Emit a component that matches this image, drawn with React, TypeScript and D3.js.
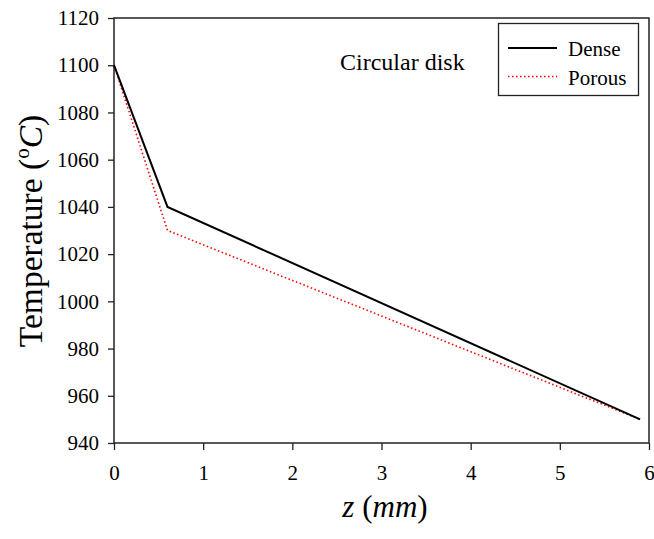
import React, { useEffect, useRef } from 'react'
import * as d3 from 'd3'

// distance along the disk (mm) and temperature (°C)
const zValues = [0, 0.6, 5.9]
const denseTemps = [1100, 1040, 950]
const porousTemps = [1100, 1030, 950]
const xTicks = [0, 1, 2, 3, 4, 5, 6]
const yTicks = [940, 960, 980, 1000, 1020, 1040, 1060, 1080, 1100, 1120]
const seriesNames = ['Dense', 'Porous']

const FONT = 'Liberation Serif, Times New Roman, DejaVu Serif, serif'

const App = () => {
  const ref = useRef<SVGSVGElement>(null)
  const width = 654
  const height = 539
  const left = 114
  const right = 649
  const top = 18
  const bottom = 443

  useEffect(() => {
    const svg = d3.select(ref.current)
    svg.selectAll('*').remove()

    const x = d3.scaleLinear().domain([0, 6]).range([left, right])
    const y = d3.scaleLinear().domain([940, 1120]).range([bottom, top])

    // frame
    svg.append('rect')
      .attr('x', left).attr('y', top)
      .attr('width', right - left).attr('height', bottom - top)
      .attr('fill', 'none').attr('stroke', '#222').attr('stroke-width', 1.5)

    const xAxis = svg.append('g')
      .attr('transform', `translate(0, ${bottom})`)
      .call(d3.axisBottom(x).tickValues(xTicks).tickFormat(d3.format('d'))
        .tickSize(7).tickSizeOuter(0).tickPadding(15))
    xAxis.attr('font-family', FONT).attr('font-size', 21)
    xAxis.select('.domain').remove()
    xAxis.selectAll('line').attr('stroke', '#222').attr('stroke-width', 1.3)
    xAxis.selectAll('text').attr('fill', '#000')

    const yAxis = svg.append('g')
      .attr('transform', `translate(${left}, 0)`)
      .call(d3.axisLeft(y).tickValues(yTicks).tickFormat(d3.format('d'))
        .tickSize(6).tickSizeOuter(0).tickPadding(9))
    yAxis.attr('font-family', FONT).attr('font-size', 21)
    yAxis.select('.domain').remove()
    yAxis.selectAll('line').attr('stroke', '#222').attr('stroke-width', 1.3)
    yAxis.selectAll('text').attr('fill', '#000')

    const line = d3.line<number>()
      .x((_, i) => x(zValues[i]))
      .y(d => y(d))

    svg.append('path')
      .attr('d', line(porousTemps))
      .attr('fill', 'none').attr('stroke', '#ff0000')
      .attr('stroke-width', 1.6).attr('stroke-dasharray', '1.5 2.5')

    svg.append('path')
      .attr('d', line(denseTemps))
      .attr('fill', 'none').attr('stroke', '#000')
      .attr('stroke-width', 2)

    // annotation
    svg.append('text')
      .attr('x', 340).attr('y', 70)
      .attr('font-family', FONT).attr('font-size', 24)
      .text('Circular disk')

    // legend
    const lg = svg.append('g')
    lg.append('rect')
      .attr('x', 498.5).attr('y', 23.5).attr('width', 140).attr('height', 72)
      .attr('fill', '#fff').attr('stroke', '#222').attr('stroke-width', 1.3)
    seriesNames.forEach((name, i) => {
      const ly = 48 + i * 28.5
      lg.append('line')
        .attr('x1', 508).attr('x2', 557).attr('y1', ly).attr('y2', ly)
        .attr('stroke', i === 0 ? '#000' : '#ff0000')
        .attr('stroke-width', i === 0 ? 2 : 1.6)
        .attr('stroke-dasharray', i === 0 ? null : '1.5 2.5')
      lg.append('text')
        .attr('x', 568).attr('y', ly + 8)
        .attr('font-family', FONT).attr('font-size', 21)
        .text(name)
    })

    // axis titles
    const xt = svg.append('text')
      .attr('x', 385).attr('y', 517)
      .attr('text-anchor', 'middle')
      .attr('font-family', FONT).attr('font-size', 31)
    xt.append('tspan').attr('font-style', 'italic').text('z')
    xt.append('tspan').text(' (')
    xt.append('tspan').attr('font-style', 'italic').text('mm')
    xt.append('tspan').text(')')

    const yt = svg.append('text')
      .attr('transform', 'translate(42, 231) rotate(-90)')
      .attr('text-anchor', 'middle')
      .attr('font-family', FONT).attr('font-size', 33.5)
    yt.append('tspan').text('Temperature (')
    yt.append('tspan').attr('font-size', 21).attr('dy', -13).text('o')
    yt.append('tspan').attr('font-style', 'italic').attr('dy', 13).text('C')
    yt.append('tspan').text(')')
  }, [])

  return (
    <svg ref={ref} width={width} height={height}
      style={{ position: 'absolute', left: 0, top: 0, background: '#fff' }} />
  )
}

export default App
